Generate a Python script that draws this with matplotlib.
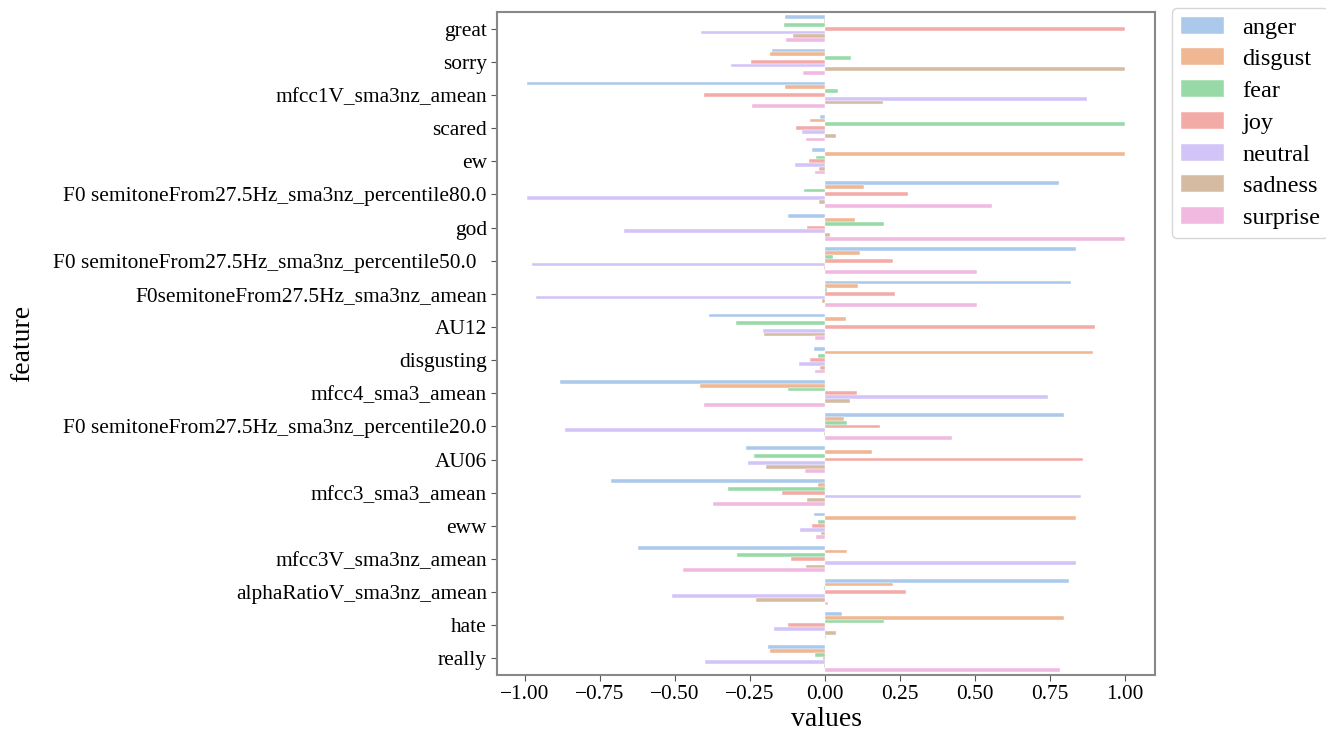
import pandas as pd
import seaborn as sns
import matplotlib.pyplot as plt

features = ['great', 'sorry', 'mfcc1V_sma3nz_amean', 'scared', 'ew',
            'F0 semitoneFrom27.5Hz_sma3nz_percentile80.0', 'god',
            'F0 semitoneFrom27.5Hz_sma3nz_percentile50.0  ',
            'F0semitoneFrom27.5Hz_sma3nz_amean', 'AU12', 'disgusting',
            'mfcc4_sma3_amean', 'F0 semitoneFrom27.5Hz_sma3nz_percentile20.0',
            'AU06', 'mfcc3_sma3_amean', 'eww', 'mfcc3V_sma3nz_amean',
            'alphaRatioV_sma3nz_amean', 'hate', 'really']

emotions = ['anger', 'disgust', 'fear', 'joy', 'neutral', 'sadness', 'surprise']

anger = [-0.133, -0.178, -0.993, -0.018, -0.044, 0.781, -0.125, 0.836, 0.819, -0.388,
         -0.038, -0.882, 0.795, -0.263, -0.713, -0.038, -0.624, 0.813, 0.055, -0.19]
disgust = [-0.005, -0.183, -0.133, -0.049, 1.0, 0.131, 0.1, 0.117, 0.111, 0.069,
           0.892, -0.417, 0.063, 0.156, -0.024, 0.836, 0.074, 0.226, 0.798, -0.183]
fear = [-0.138, 0.088, 0.042, 1.0, -0.031, -0.07, 0.198, 0.028, 0.007, -0.298,
        -0.024, -0.122, 0.073, -0.237, -0.322, -0.024, -0.295, -0.004, 0.197, -0.032]
joy = [1.0, -0.246, -0.403, -0.096, -0.053, 0.277, -0.06, 0.225, 0.233, 0.9,
       -0.049, 0.108, 0.183, 0.861, -0.143, -0.042, -0.114, 0.27, -0.122, -0.008]
neutral = [-0.414, -0.312, 0.872, -0.076, -0.1, -0.993, -0.671, -0.976, -0.962, -0.206,
           -0.088, 0.742, -0.867, -0.256, 0.854, -0.083, 0.836, -0.511, -0.17, -0.4]
sadness = [-0.108, 1.0, 0.194, 0.035, -0.02, -0.021, 0.015, -0.004, -0.01, -0.202,
           -0.017, 0.083, -0.004, -0.197, -0.059, -0.015, -0.065, -0.229, 0.035, -0.003]
surprise = [-0.129, -0.074, -0.242, -0.063, -0.035, 0.555, 1.0, 0.508, 0.506, -0.032,
            -0.032, -0.404, 0.423, -0.066, -0.375, -0.029, -0.473, 0.01, 0.003, 0.782]

wide = pd.DataFrame({'feature': features, 'anger': anger, 'disgust': disgust,
                     'fear': fear, 'joy': joy, 'neutral': neutral,
                     'sadness': sadness, 'surprise': surprise})
df = wide.melt(id_vars='feature', var_name='emotion', value_name='values')

plt.rcParams['font.family'] = ['Liberation Serif', 'DejaVu Serif']

fig = plt.figure(figsize=(13.26, 7.35), dpi=100)
ax = fig.add_axes([0.375, 0.0816, 0.496, 0.902])

sns.barplot(data=df, y='feature', x='values', hue='emotion', hue_order=emotions,
            palette='pastel', orient='h', ax=ax, edgecolor='white', linewidth=0.3)

for s in ax.spines.values():
    s.set_color('#888888')
    s.set_linewidth(1.5)

ax.set_xticks([-1, -0.75, -0.5, -0.25, 0, 0.25, 0.5, 0.75, 1])
ax.set_xticklabels(['\u22121.00', '\u22120.75', '\u22120.50', '\u22120.25',
                    '0.00', '0.25', '0.50', '0.75', '1.00'])
ax.tick_params(axis='both', labelsize=15.4, length=4, color='#555555')
ax.set_xlabel('values', fontsize=20, labelpad=2)
ax.set_ylabel('feature', fontsize=20)
ax.yaxis.set_label_coords(-0.703, 0.5)

ax.legend(loc='upper left', bbox_to_anchor=(1.026, 1.006), fontsize=17.5,
          frameon=True, borderaxespad=0, handlelength=1.8, handletextpad=0.75,
          labelspacing=0.4, borderpad=0.35)

fig.savefig('out.png', dpi=100)
